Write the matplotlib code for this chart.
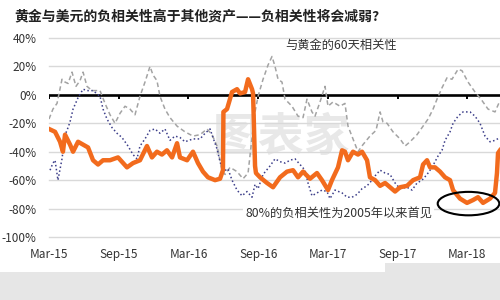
import matplotlib
matplotlib.use('agg')
import matplotlib.pyplot as plt
from matplotlib.patches import Ellipse, Rectangle

plt.rcParams['font.family'] = ['Noto Sans CJK SC', 'DejaVu Sans']

# time axis: months since Mar-2015
tick_months = [0, 6, 12, 18, 24, 30, 36]
tick_labels = ['Mar-15', 'Sep-15', 'Mar-16', 'Sep-16', 'Mar-17', 'Sep-17', 'Mar-18']
y_ticks = [40, 20, 0, -20, -40, -60, -80, -100]

orange_m = [0.00, 0.52, 0.95, 1.20, 1.38, 1.81, 2.07, 2.50, 2.93, 3.36, 3.79, 4.22, 4.65,
            5.25, 5.94, 6.71, 7.23, 7.83, 8.43, 8.86, 9.29, 9.72, 10.15, 10.59, 11.02,
            11.27, 11.88, 12.39, 12.82, 13.25, 13.68, 14.29, 14.72, 14.97, 15.01, 15.32,
            15.75, 16.18, 16.44, 16.87, 17.13, 17.47, 17.56, 17.73, 17.81, 18.16, 18.76,
            19.28, 19.88, 20.48, 21.00, 21.43, 21.86, 22.46, 23.06, 23.49, 24.01, 24.35,
            24.87, 25.22, 25.47, 25.73, 26.16, 26.59, 26.94, 27.37, 27.62, 28.06, 28.49,
            28.92, 29.35, 29.78, 30.21, 30.81, 31.33, 31.93, 32.19, 32.53, 32.79, 33.22,
            33.65, 34.08, 34.51, 34.77, 35.37, 35.97, 36.49, 36.92, 37.35, 37.95, 38.38,
            38.55, 38.64, 38.81]
orange_v = [-24, -26, -33, -40, -28, -35, -40, -33, -35, -37, -46, -49, -46,
            -46, -44, -51, -48, -46, -36, -44, -40, -42, -39, -44, -34,
            -44, -46, -40, -48, -54, -58, -60, -59, -53, -12, -10,
            2, 4, 1, 2, 11, 4, 1, -50, -55, -58, -62,
            -65, -58, -54, -53, -58, -54, -59, -55, -60, -67, -60,
            -51, -39, -40, -46, -40, -42, -40, -46, -58, -60, -64,
            -62, -65, -68, -65, -64, -60, -58, -49, -46, -51, -51,
            -54, -58, -60, -67, -73, -76, -74, -72, -76, -73, -69,
            -55, -41, -39]

gray_m = [0.00, 0.34, 0.69, 1.12, 1.38, 1.64, 1.98, 2.32, 2.67, 2.93, 3.27, 3.70, 4.39,
          4.82, 5.25, 5.68, 6.11, 6.54, 6.97, 7.40, 7.83, 8.26, 8.69, 8.95, 9.29, 9.55,
          9.98, 10.41, 11.02, 11.70, 12.39, 13.00, 13.60, 14.03, 14.46, 14.89, 15.15,
          15.58, 16.18, 16.70, 17.13, 17.47, 17.73, 17.99, 18.42, 18.85, 19.19, 19.45,
          19.71, 20.05, 20.31, 20.91, 21.43, 21.86, 22.20, 22.63, 22.89, 23.32, 23.75,
          24.01, 24.44, 25.04, 25.47, 25.73, 26.16, 26.59, 27.02, 27.62, 28.14, 28.49,
          28.74, 29.09, 29.60, 30.21, 30.64, 31.07, 31.67, 32.19, 32.62, 33.05, 33.39,
          33.82, 34.25, 34.68, 35.20, 35.54, 36.06, 36.66, 37.26, 37.78, 38.38, 38.81]
gray_v = [-17, -10, -6, 11, 9, 8, 16, 6, 10, 16, 6, 3, 3,
          -6, -14, -20, -13, -8, -10, -14, -1, 9, 20, 14, 10, -1,
          -10, -16, -22, -26, -29, -28, -24, -28, -36, -53, -56,
          -51, -54, -59, -55, -30, -12, -1, 11, 21, 27, 20,
          11, 9, -3, -8, -15, -16, -3, -12, -15, -5, 6,
          -8, -5, -8, -6, -22, -31, -40, -35, -29, -25, -12,
          -19, -20, -26, -31, -36, -33, -28, -22, -17, -10, -3,
          5, 12, 11, 18, 17, 9, 2, -4, -10, -12, -4]

blue_m = [0.09, 0.34, 0.52, 0.77, 1.12, 1.38, 1.55, 1.81, 2.07, 2.50, 2.93, 3.27, 3.79,
          4.39, 4.65, 4.99, 5.42, 5.85, 6.28, 6.80, 7.23, 7.57, 7.83, 8.26, 8.69, 9.12,
          9.55, 9.98, 10.41, 10.84, 11.27, 11.70, 12.39, 13.00, 13.43, 13.86, 14.11,
          14.46, 14.72, 14.97, 15.40, 15.75, 16.18, 16.61, 17.04, 17.47, 17.73, 17.99,
          18.42, 19.02, 19.45, 19.88, 20.31, 20.74, 21.17, 21.60, 22.03, 22.29, 22.63,
          23.06, 23.49, 23.92, 24.18, 24.61, 25.22, 25.65, 26.08, 26.51, 26.94, 27.37,
          27.80, 28.06, 28.49, 28.92, 29.35, 29.78, 30.21, 30.81, 31.24, 31.67, 32.10,
          32.53, 32.96, 33.22, 33.48, 33.82, 34.08, 34.51, 34.77, 35.20, 35.63, 36.23,
          36.66, 37.09, 37.52, 37.95, 38.38, 38.81]
blue_v = [-53, -48, -46, -60, -45, -28, -25, -19, -10, -2, 4, 3, 3,
          -1, -10, -17, -23, -27, -30, -36, -42, -45, -36, -31, -25, -24,
          -27, -24, -32, -29, -30, -33, -31, -31, -27, -24, -30,
          -38, -47, -54, -52, -60, -67, -71, -68, -72, -63, -66,
          -56, -50, -45, -47, -48, -46, -45, -49, -53, -62, -71,
          -69, -67, -68, -73, -67, -69, -72, -72, -70, -66, -64,
          -60, -57, -53, -55, -56, -62, -66, -65, -67, -62, -60,
          -56, -51, -47, -43, -39, -32, -26, -20, -15, -12, -12,
          -15, -20, -29, -33, -32, -30]

fig = plt.figure(figsize=(5, 3), dpi=100)
fig.patch.set_facecolor('white')
# grey band of the screenshot at the bottom
fig.patches.append(Rectangle((0, 0), 1, 0.093, transform=fig.transFigure,
                             facecolor='#e6e6e6', edgecolor='none', zorder=-5))
fig.patches.append(Rectangle((0.77, 0), 0.23, 0.125, transform=fig.transFigure,
                             facecolor='#e6e6e6', edgecolor='none', zorder=-5))

ax = fig.add_axes([0.098, 0.21, 0.902, 0.6633])
ax.set_xlim(0, 38.81)
ax.set_ylim(-100, 40)
for s in ax.spines.values():
    s.set_visible(False)

for y in y_ticks:
    if y != 0:
        ax.axhline(y, color='#d9d9d9', lw=1.0, zorder=1, clip_on=False)
ax.axhline(0, color='black', lw=1.9, zorder=2)
ax.vlines(tick_months, -2.8, 0, color='black', lw=1.4, zorder=2)

# watermark
ax.text(20.0, -30, '图表家', fontsize=33, color='#e8e8e8', ha='center', va='center',
        fontweight='bold', zorder=0)

ax.plot(gray_m, gray_v, color='#a3a3a3', lw=1.1, ls=(0, (3, 2)), zorder=3)
ax.plot(blue_m, blue_v, color='#3d3f8a', lw=1.1, ls=(0, (1, 1.6)), zorder=3)
ax.plot(orange_m, orange_v, color='#f26b1d', lw=3.2, zorder=4,
        solid_joinstyle='round')

ax.add_patch(Ellipse((36.1, -76.5), 5.3, 16.5, fill=False, edgecolor='black',
                     lw=1.5, zorder=5, clip_on=False))

ax.set_yticks(y_ticks)
ax.set_yticklabels([f'{v}%' for v in y_ticks])
ax.set_xticks(tick_months)
ax.set_xticklabels(tick_labels)
ax.tick_params(axis='both', length=0, labelsize=8.5, colors='#333333')
ax.tick_params(axis='y', pad=9)
ax.tick_params(axis='x', pad=8)

ax.text(20.3, 34.5, '与黄金的60天相关性', fontsize=8.8, color='#333333',
        ha='left', va='center', zorder=6)
ax.text(16.9, -83.5, '80%的负相关性为2005年以来首见', fontsize=8.8, color='#333333',
        ha='left', va='center', zorder=6,
        bbox=dict(facecolor='white', edgecolor='none', pad=1.5))

fig.text(0.028, 0.947, '黄金与美元的负相关性高于其他资产——负相关性将会减弱?',
         fontsize=10, fontweight='bold', color='#222222', ha='left', va='center')

fig.savefig('out.png', dpi=100)
